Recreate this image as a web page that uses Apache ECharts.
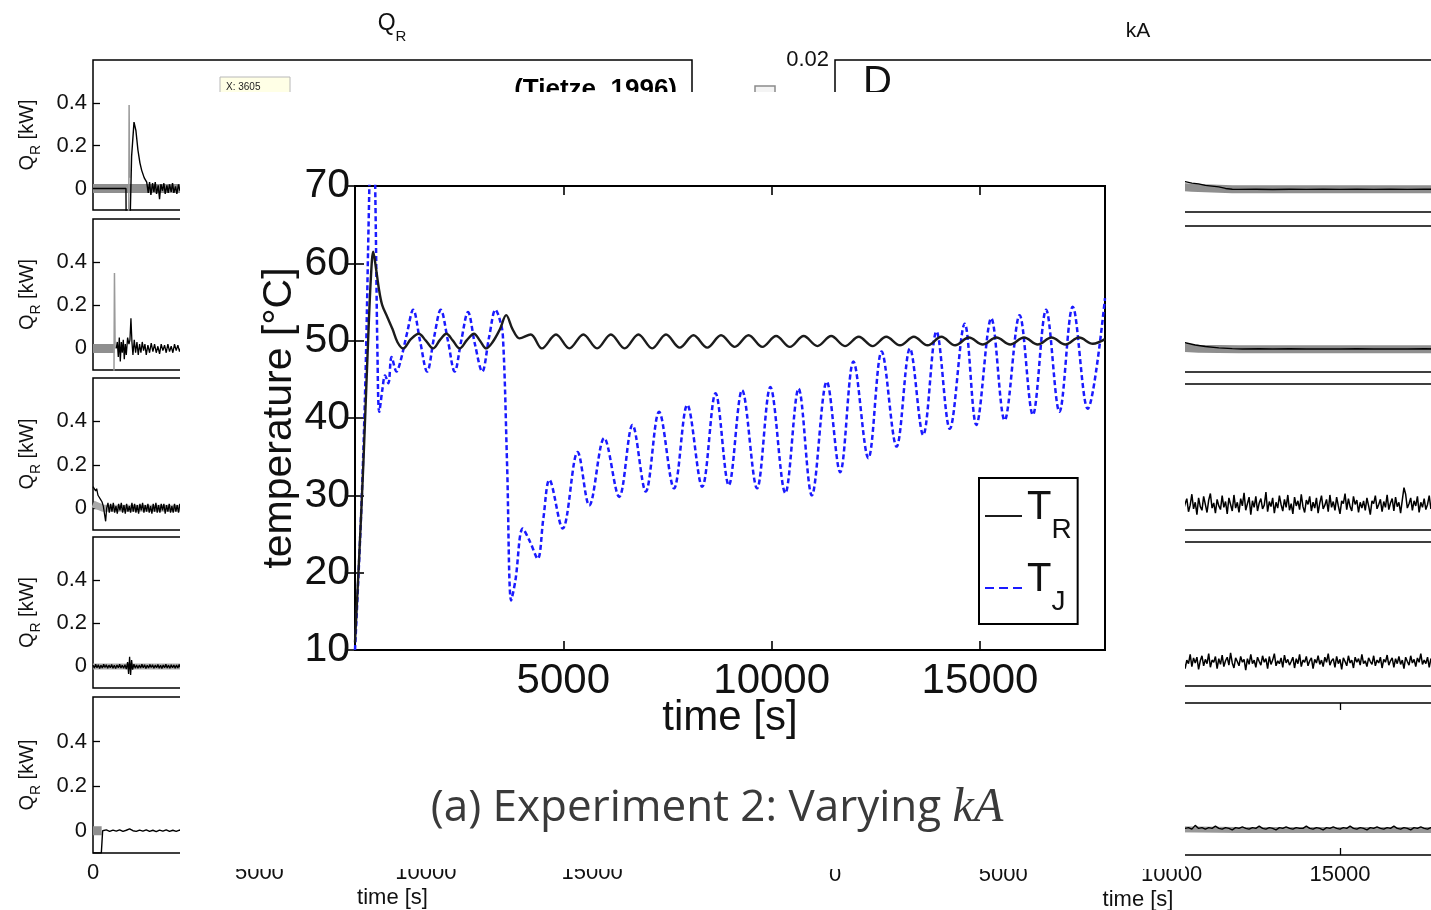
<!DOCTYPE html>
<html><head><meta charset="utf-8">
<script src="https://cdn.jsdelivr.net/npm/echarts@6/dist/echarts.min.js"></script>
<style>
html,body{margin:0;padding:0;background:#fff;overflow:hidden;width:1431px;height:910px;}
#bg{position:absolute;left:0;top:0;width:1470px;height:910px;}
#ov{position:absolute;left:180px;top:92px;width:1005px;height:777px;background:#fff;}
</style></head><body>
<div id="bg"></div><div id="ov"></div>
<script>
// ---------------- main chart data ----------------
const mainTimeTickInterval = 5000;
const mainTempTicks = [10, 20, 30, 40, 50, 60, 70];
const legendNames = ['T_R', 'T_J'];
const TR = [[0,11],[100,22],[200,34],[300,48],[380,58],[438,61.5],[500,59.5],[580,56.5],[653,54.6],[780,53],[900,51.5],[1020,49.8],[1155,49.0],[1340,50.2],[1531,50.9],[1700,50.0],[1874,49.0],[2040,50.1],[2194,50.9],[2350,50.0],[2512,49.0],[2690,50.1],[2856,50.9],[3000,50.0],[3150,49.0],[3300,49.8],[3480,51.5],[3629,53.3],[3780,51.5],[3947,50.3],[4218,50.8],[4483,49.0],[4824,50.8],[5144,49.0],[5480,50.8],[5810,49.0],[6141,50.8],[6471,49.0],[6802,50.8],[7132,49.0],[7463,50.8],[7793,49.1],[8124,50.7],[8454,49.1],[8785,50.7],[9115,49.2],[9446,50.7],[9776,49.2],[10107,50.6],[10437,49.2],[10768,50.6],[11098,49.3],[11429,50.6],[11759,49.3],[12090,50.5],[12420,49.3],[12751,50.5],[13081,49.4],[13412,50.5],[13742,49.4],[14073,50.5],[14403,49.4],[14734,50.4],[15064,49.5],[15395,50.4],[15725,49.5],[16056,50.4],[16386,49.5],[16717,50.4],[17047,49.5],[17378,50.4],[17708,49.6],[18000,50.2]];
const TJ = [[0,10],[150,28],[250,45],[330,66],[390,80],[440,82],[490,68],[540,48],[582,40.8],[660,43.8],[720,45.5],[800,44.5],[878,47.9],[997,46.0],[1090,47.3],[1250,51],[1396,54.0],[1560,50],[1731,46.0],[1900,50.5],[2057,54.0],[2230,50],[2392,46.0],[2550,50],[2711,53.7],[2880,49.5],[3053,46.0],[3220,50.5],[3373,54.0],[3460,53],[3548,50.7],[3650,34],[3748,16.4],[3850,19],[4027,25.7],[4200,24],[4385,21.8],[4520,27],[4665,32.0],[4984,25.7],[5343,35.6],[5622,28.7],[5981,37.4],[6340,29.8],[6659,39.1],[6978,30.5],[7297,40.8],[7656,30.9],[7974,41.7],[8333,31.1],[8653,43.2],[8971,31.3],[9290,43.6],[9649,30.9],[9968,44.0],[10327,30.3],[10646,43.8],[10964,30.0],[11323,44.7],[11643,33.0],[11962,47.3],[12320,34.8],[12639,48.6],[12998,36.3],[13318,49.0],[13636,37.8],[13955,51.2],[14275,38.6],[14633,52.2],[14912,39.1],[15270,52.9],[15591,39.7],[15950,53.3],[16268,40.4],[16586,54.0],[16906,40.8],[17225,54.4],[17584,41.2],[18000,55.5]];

// ---------------- background figure data ----------------
const bgTimeTicks = [0, 5000, 10000, 15000];
const bgMinorTimeTicks = [5000, 10000, 15000];
const qrTicks = [0, 0.2, 0.4];
const kaTicks = [0.02];
const qr1Band = [[0,0],[500,0],[990,0],[1500,0],[2000,0],[2700,0]];
const qr1Spike = [[1075,-0.12],[1085,0.39],[1100,0.05]];
const qr1Black = [[0,0],[990,0],[995,-0.12],[1120,-0.12],[1160,0.15],[1232,0.31],[1290,0.27],[1350,0.18],[1410,0.12],[1463,0.085],[1540,0.05],[1614,0.03],[1660,-0.02],[1700,0.03],[1740,-0.03],[1790,0.025],[1830,-0.015],[1870,0.03],[1910,-0.025],[1960,0.015],[2000,-0.05],[2040,0.02],[2090,-0.01],[2130,0.025],[2170,-0.025],[2220,0.015],[2260,-0.02],[2300,0.02],[2350,-0.015],[2390,0.025],[2430,-0.02],[2480,0.01],[2520,-0.025],[2570,0.02],[2610,-0.01],[2660,0.015],[2700,0]];
const qr2Band = [[0,0],[650,0]];
const qr2Spike = [[630,-0.12],[645,0.35],[665,0.0]];
const qr2Black = [[700,0.0],[730,0.03],[760,-0.04],[790,0.05],[820,-0.06],[850,0.03],[880,-0.02],[910,0.04],[940,-0.05],[970,0.02],[1000,-0.03],[1040,0.05],[1080,0.02],[1110,0.04],[1140,0.14],[1170,0.03],[1200,-0.03],[1240,0.04],[1280,-0.02],[1320,0.03],[1360,-0.03],[1400,0.02],[1440,-0.02],[1480,0.03],[1520,-0.01],[1560,0.02],[1600,-0.03],[1650,0.015],[1700,-0.02],[1750,0.025],[1800,-0.015],[1850,0.02],[1900,-0.02],[1950,0.01],[2000,-0.025],[2050,0.02],[2100,-0.01],[2150,0.015],[2200,-0.02],[2250,0.02],[2300,-0.015],[2350,0.01],[2400,-0.02],[2450,0.02],[2500,-0.01],[2550,0.015],[2600,-0.015],[2650,0.01],[2700,0]];
const qr3Band = [[0,0.02],[300,0],[2700,0]];
const qr3Black = [[0,0.10],[40,0.095],[80,0.08],[110,0.09],[150,0.06],[190,0.065],[230,0.04],[270,0.03],[310,0.01],[350,-0.03],[380,-0.06],[410,0.0],[450,0.025],[490,-0.02],[530,0.02],[570,-0.015],[610,0.025],[650,-0.02],[690,0.01],[730,-0.025],[770,0.02],[810,-0.01],[850,0.025],[890,-0.02],[930,0.015],[970,-0.025],[1010,0.02],[1050,-0.015],[1090,0.01],[1130,-0.02],[1170,0.025],[1210,-0.015],[1250,0.02],[1290,-0.02],[1330,0.015],[1370,-0.025],[1410,0.02],[1450,-0.01],[1490,0.025],[1530,-0.02],[1570,0.015],[1610,-0.015],[1650,0.02],[1690,-0.02],[1730,0.01],[1770,-0.025],[1810,0.02],[1850,-0.015],[1890,0.025],[1930,-0.02],[1970,0.015],[2010,-0.02],[2050,0.02],[2090,-0.01],[2130,0.02],[2170,-0.025],[2210,0.015],[2250,-0.015],[2290,0.02],[2330,-0.02],[2370,0.01],[2410,-0.02],[2450,0.02],[2490,-0.015],[2530,0.015],[2570,-0.02],[2610,0.02],[2650,-0.01],[2700,0.0]];
const qr4Band = [[0,0],[2700,0]];
const qr4Black = [[0,0.006],[40,-0.008],[80,0.01],[120,-0.006],[160,0.008],[200,-0.01],[240,0.005],[280,-0.007],[320,0.01],[360,-0.005],[400,0.008],[440,-0.009],[480,0.006],[520,-0.006],[560,0.009],[600,-0.008],[640,0.005],[680,-0.01],[720,0.007],[760,-0.006],[800,0.01],[840,-0.007],[880,0.006],[920,-0.009],[960,0.008],[1000,-0.012],[1040,0.02],[1070,-0.035],[1100,0.045],[1130,-0.04],[1160,0.03],[1190,-0.015],[1230,0.01],[1270,-0.008],[1310,0.007],[1350,-0.009],[1390,0.006],[1430,-0.007],[1470,0.01],[1510,-0.006],[1550,0.008],[1590,-0.01],[1630,0.005],[1670,-0.007],[1710,0.009],[1750,-0.005],[1790,0.008],[1830,-0.009],[1870,0.006],[1910,-0.006],[1950,0.009],[1990,-0.008],[2030,0.005],[2070,-0.01],[2110,0.007],[2150,-0.006],[2190,0.01],[2230,-0.007],[2270,0.006],[2310,-0.009],[2350,0.008],[2390,-0.006],[2430,0.007],[2470,-0.008],[2510,0.006],[2550,-0.007],[2590,0.009],[2630,-0.006],[2700,0.0]];
const qr5Band = [[0,0],[260,0]];
const qr5Black = [[0,-0.1],[250,-0.1],[270,-0.05],[290,0.0],[400,0.004],[500,-0.003],[600,0.003],[700,-0.002],[800,0.004],[900,-0.003],[1000,0.002],[1100,0.008],[1200,0.0],[1300,-0.003],[1400,0.003],[1500,-0.002],[1600,0.004],[1700,-0.003],[1800,0.002],[1900,-0.004],[2000,0.003],[2100,-0.002],[2200,0.004],[2300,-0.003],[2400,0.002],[2500,-0.003],[2600,0.003],[2700,0]];

const ka1Black = [[10000,0.0041],[10400,0.0040],[10600,0.0038],[10800,0.0037],[11000,0.0035],[11200,0.0034],[11400,0.0033],[11600,0.0031],[11800,0.0030],[12000,0.00298],[12500,0.00300],[13000,0.00297],[13500,0.00300],[14000,0.00298],[14500,0.00301],[15000,0.00298],[15500,0.00300],[16000,0.00298],[16500,0.00300],[17000,0.00298],[17500,0.00300],[18000,0.00299]];
const ka1Band = [[10000,0.0034],[10600,0.0032],[11200,0.0031],[11800,0.0030],[12500,0.0030],[18000,0.0030]];
const ka2Black = [[10000,0.0041],[10400,0.0040],[10700,0.0037],[11000,0.0035],[11400,0.0033],[11800,0.0032],[12100,0.00315],[12600,0.00318],[13000,0.00316],[13500,0.00318],[14000,0.00316],[14500,0.00317],[15000,0.00315],[15500,0.00318],[16000,0.00316],[16500,0.00317],[17000,0.00315],[17500,0.00318],[18000,0.00316]];
const ka2Band = [[10000,0.0034],[10800,0.0032],[12000,0.0031],[18000,0.0031]];
const kaFineTimes = [10000,10050,10100,10150,10200,10250,10300,10350,10400,10450,10500,10550,10600,10650,10700,10750,10800,10850,10900,10950,11000,11050,11100,11150,11200,11250,11300,11350,11400,11450,11500,11550,11600,11650,11700,11750,11800,11850,11900,11950,12000,12050,12100,12150,12200,12250,12300,12350,12400,12450,12500,12550,12600,12650,12700,12750,12800,12850,12900,12950,13000,13050,13100,13150,13200,13250,13300,13350,13400,13450,13500,13550,13600,13650,13700,13750,13800,13850,13900,13950,14000,14050,14100,14150,14200,14250,14300,14350,14400,14450,14500,14550,14600,14650,14700,14750,14800,14850,14900,14950,15000,15050,15100,15150,15200,15250,15300,15350,15400,15450,15500,15550,15600,15650,15700,15750,15800,15850,15900,15950,16000,16050,16100,16150,16200,16250,16300,16350,16400,16450,16500,16550,16600,16650,16700,16750,16800,16850,16900,16950,17000,17050,17100,17150,17200,17250,17300,17350,17400,17450,17500,17550,17600,17650,17700,17750,17800,17850,17900,17950,18000];
const ka3Values = [0.0040,0.0028,0.0045,0.0031,0.0022,0.0039,0.0047,0.0027,0.0036,0.0043,
0.0025,0.0034,0.0049,0.0029,0.0038,0.0021,0.0044,0.0032,0.0027,0.0046,
0.0035,0.0024,0.0041,0.0050,0.0030,0.0037,0.0023,0.0042,0.0033,0.0028,
0.0047,0.0031,0.0039,0.0022,0.0044,0.0035,0.0026,0.0048,0.0030,0.0038,
0.0024,0.0043,0.0033,0.0051,0.0027,0.0036,0.0045,0.0021,0.0040,0.0031,
0.0046,0.0026,0.0037,0.0043,0.0029,0.0034,0.0052,0.0025,0.0039,0.0032,
0.0044,0.0023,0.0038,0.0030,0.0047,0.0035,0.0026,0.0042,0.0031,0.0048,
0.0027,0.0036,0.0022,0.0045,0.0033,0.0040,0.0028,0.0049,0.0032,0.0024,
0.0041,0.0035,0.0046,0.0026,0.0038,0.0030,0.0044,0.0023,0.0037,0.0047,
0.0029,0.0034,0.0042,0.0025,0.0048,0.0031,0.0039,0.0027,0.0045,0.0033,
0.0022,0.0040,0.0036,0.0050,0.0028,0.0043,0.0032,0.0026,0.0046,0.0035,
0.0041,0.0024,0.0038,0.0030,0.0040,0.0027,0.0044,0.0033,0.0021,0.0040,
0.0036,0.0047,0.0029,0.0035,0.0042,0.0025,0.0039,0.0031,0.0048,0.0028,
0.0037,0.0043,0.0026,0.0045,0.0032,0.0038,0.0023,0.0041,0.0058,0.0049,
0.0030,0.0036,0.0044,0.0027,0.0040,0.0033,0.0046,0.0024,0.0038,0.0031,
0.0043,0.0028,0.0035,0.0047,0.0029,0.0041,0.0034,0.0025,0.0045,0.0032,
0.0039];
const ka4Values = [0.0041,0.0029,0.0037,0.0025,0.0035,0.0043,0.0030,0.0038,0.0024,0.0036,
0.0031,0.0044,0.0027,0.0039,0.0032,0.0040,0.0023,0.0035,0.0042,0.0028,
0.0037,0.0031,0.0045,0.0026,0.0036,0.0033,0.0041,0.0024,0.0038,0.0030,
0.0043,0.0027,0.0035,0.0040,0.0029,0.0046,0.0032,0.0025,0.0039,0.0034,
0.0028,0.0041,0.0033,0.0037,0.0022,0.0038,0.0030,0.0044,0.0031,0.0036,
0.0026,0.0040,0.0034,0.0029,0.0042,0.0033,0.0038,0.0024,0.0041,0.0030,
0.0036,0.0045,0.0028,0.0035,0.0031,0.0039,0.0026,0.0043,0.0032,0.0037,
0.0029,0.0034,0.0040,0.0025,0.0038,0.0031,0.0044,0.0027,0.0036,0.0033,
0.0041,0.0028,0.0035,0.0039,0.0024,0.0037,0.0032,0.0042,0.0030,0.0036,
0.0027,0.0040,0.0033,0.0045,0.0029,0.0035,0.0038,0.0026,0.0041,0.0031,
0.0037,0.0023,0.0039,0.0034,0.0028,0.0042,0.0032,0.0036,0.0025,0.0040,
0.0033,0.0038,0.0029,0.0044,0.0031,0.0035,0.0027,0.0039,0.0034,0.0030,
0.0042,0.0028,0.0036,0.0032,0.0040,0.0025,0.0037,0.0033,0.0043,0.0029,
0.0035,0.0039,0.0026,0.0038,0.0031,0.0041,0.0030,0.0036,0.0024,0.0040,
0.0034,0.0029,0.0042,0.0032,0.0037,0.0027,0.0039,0.0033,0.0045,0.0030,
0.0036,0.0031,0.0040,0.0026,0.0038,0.0033,0.0041,0.0029,0.0035,0.0032,
0.0037];
const kaCoarseTimes = [10000,10100,10200,10300,10400,10500,10600,10700,10800,10900,11000,11100,11200,11300,11400,11500,11600,11700,11800,11900,12000,12100,12200,12300,12400,12500,12600,12700,12800,12900,13000,13100,13200,13300,13400,13500,13600,13700,13800,13900,14000,14100,14200,14300,14400,14500,14600,14700,14800,14900,15000,15100,15200,15300,15400,15500,15600,15700,15800,15900,16000,16100,16200,16300,16400,16500,16600,16700,16800,16900,17000,17100,17200,17300,17400,17500,17600,17700,17800,17900,18000];
const ka5Values = [0.0038,0.0036,0.0035,0.0037,0.0035,0.0036,0.0034,0.0039,0.0035,0.0036,0.0034,0.0036,0.0035,0.0038,0.0035,0.0034,0.0036,0.0035,0.0033,0.0036,0.0035,0.0037,0.0035,0.0034,0.0036,0.0035,0.0038,0.0035,0.0034,0.0036,0.0035,0.0033,0.0036,0.0035,0.0037,0.0035,0.0034,0.0036,0.0035,0.0035,0.0038,0.0035,0.0034,0.0036,0.0035,0.0033,0.0036,0.0035,0.0037,0.0035,0.0034,0.0036,0.0035,0.0038,0.0035,0.0034,0.0036,0.0035,0.0033,0.0036,0.0035,0.0037,0.0035,0.0034,0.0036,0.0035,0.0038,0.0035,0.0034,0.0036,0.0035,0.0033,0.0036,0.0035,0.0037,0.0035,0.0034,0.0036,0.0035,0.0036,0.0035];
const ka5Band = [[10000,0.0034],[12000,0.0033],[18000,0.0033]];

// ---------------- layout ----------------
const SANS = "'Liberation Sans', Arial, Helvetica, sans-serif";
const leftTops = [60, 219, 378, 537, 697], leftHeights = [150, 151, 152, 151, 156];
const rightTops = [60, 226, 384, 542, 703], rightHeights = [152, 146, 146, 144, 152];
const plain = function (v) { return String(v); };

function zip(times, vals) { return times.map((t, i) => [t, vals[i]]); }

// ---------- background chart ----------
const bg = echarts.init(document.getElementById('bg'), null, {renderer: 'canvas'});
const grids = [], xAxes = [], yAxes = [], bgSeries = [];
for (let i = 0; i < 5; i++) {
  grids.push({left: 93, top: leftTops[i], width: 599, height: leftHeights[i], show: true, borderColor: '#000', borderWidth: 1.5, backgroundColor: 'transparent', containLabel: false, outerBoundsMode: 'none'});
}
for (let i = 0; i < 5; i++) {
  grids.push({left: 835, top: rightTops[i], width: 606, height: rightHeights[i], show: true, borderColor: '#000', borderWidth: 1.5, backgroundColor: 'transparent', containLabel: false, outerBoundsMode: 'none'});
}
for (let g = 0; g < 10; g++) {
  const bottom = (g === 4 || g === 9);
  xAxes.push({
    gridIndex: g, type: 'value', min: 0, max: 18000,
    axisLine: {show: false}, splitLine: {show: false},
    axisTick: {show: bottom, inside: true, length: 7, customValues: bgMinorTimeTicks, lineStyle: {color: '#000', width: 1.3}},
    axisLabel: {show: bottom, customValues: bgTimeTicks, formatter: plain, fontSize: 22, color: '#111', fontFamily: SANS, margin: 9},
    name: bottom ? 'time [s]' : '', nameLocation: 'middle', nameGap: 34, nameMoveOverlap: false,
    nameTextStyle: {fontSize: 22, color: '#111', fontFamily: SANS}
  });
  const left = g < 5;
  yAxes.push({
    gridIndex: g, type: 'value', min: left ? -0.1 : 0, max: left ? 0.6 : 0.02,
    axisLine: {show: false}, splitLine: {show: false},
    axisTick: {show: left, inside: true, length: 7, customValues: qrTicks, lineStyle: {color: '#000', width: 1.3}},
    axisLabel: {show: true, customValues: left ? qrTicks : kaTicks, fontSize: 22, color: '#111', fontFamily: SANS, margin: 6},
    name: left ? '{a|Q}{b|R}{a| [kW]}' : '', nameLocation: 'middle', nameRotate: 90, nameGap: 50,
    nameTextStyle: {color: '#111', rich: {
      a: {fontSize: 20, fontFamily: SANS, color: '#111', lineHeight: 20, verticalAlign: 'top'},
      b: {fontSize: 14, fontFamily: SANS, color: '#111', padding: [12, 0, 0, 0], verticalAlign: 'bottom'}
    }}
  });
}
// mirrored top ticks of the bottom kA panel
xAxes.push({gridIndex: 9, type: 'value', min: 0, max: 18000, position: 'top',
  axisLine: {show: false}, splitLine: {show: false}, axisLabel: {show: false},
  axisTick: {show: true, inside: true, length: 7, customValues: bgMinorTimeTicks, lineStyle: {color: '#000', width: 1.3}}});

function bgLine(idx, data, color, width, z) {
  bgSeries.push({type: 'line', xAxisIndex: idx, yAxisIndex: idx, data: data, showSymbol: false, symbol: 'none',
    lineStyle: {color: color, width: width}, animation: false, silent: true, z: z, clip: true});
}
const GRAY = '#8f8f8f';
bgLine(0, qr1Band, GRAY, 9, 1); bgLine(0, qr1Spike, '#9a9a9a', 1.5, 2); bgLine(0, qr1Black, '#000', 1.4, 3);
bgLine(1, qr2Band, GRAY, 9, 1); bgLine(1, qr2Spike, '#9a9a9a', 1.5, 2); bgLine(1, qr2Black, '#000', 1.3, 3);
bgLine(2, qr3Band, '#aaa', 7, 1); bgLine(2, qr3Black, '#000', 1.3, 3);
bgLine(3, qr4Band, '#aaa', 6, 1); bgLine(3, qr4Black, '#000', 1.3, 3);
bgLine(4, qr5Band, GRAY, 9, 1); bgLine(4, qr5Black, '#000', 1.4, 3);
bgLine(5, ka1Band, GRAY, 8, 1); bgLine(5, ka1Black, '#000', 1.4, 3);
bgLine(6, ka2Band, GRAY, 8, 1); bgLine(6, ka2Black, '#000', 1.4, 3);
bgLine(7, zip(kaFineTimes, ka3Values), '#000', 1.5, 3);
bgLine(8, zip(kaFineTimes, ka4Values), '#000', 1.5, 3);
bgLine(9, ka5Band, '#999', 6, 1); bgLine(9, zip(kaCoarseTimes, ka5Values), '#000', 1.4, 3);

bg.setOption({
  animation: false,
  grid: grids, xAxis: xAxes, yAxis: yAxes, series: bgSeries,
  graphic: [
    {type: 'text', x: 392, y: 12, style: {text: '{a|Q}{b|R}', align: 'center', textAlign: 'center', verticalAlign: 'top', textVerticalAlign: 'top',
      rich: {a: {fontSize: 23, fontFamily: SANS, fill: '#111', color: '#111', lineHeight: 23, verticalAlign: 'top'},
             b: {fontSize: 15, fontFamily: SANS, fill: '#111', color: '#111', padding: [17, 0, 0, 0], verticalAlign: 'bottom'}}}},
    {type: 'text', x: 1138, y: 31, style: {text: 'kA', font: '21px ' + SANS, fill: '#111', align: 'center', textAlign: 'center', verticalAlign: 'middle', textVerticalAlign: 'middle'}},
    {type: 'rect', shape: {x: 220, y: 77, width: 70, height: 22}, style: {fill: '#ffffe6', stroke: '#b8b8b8', lineWidth: 1}},
    {type: 'text', x: 226, y: 82, style: {text: 'X: 3605', font: '10px ' + SANS, fill: '#222', align: 'left', textAlign: 'left', verticalAlign: 'top', textVerticalAlign: 'top'}},
    {type: 'text', x: 677, y: 77, style: {text: '(Tietze, 1996)', font: 'bold 26px ' + SANS, fill: '#000', align: 'right', textAlign: 'right', verticalAlign: 'top', textVerticalAlign: 'top'}},
    {type: 'rect', shape: {x: 755, y: 86, width: 20, height: 12}, style: {fill: '#f4f4f4', stroke: '#8a8a8a', lineWidth: 1.5}},
    {type: 'text', x: 863, y: 63, style: {text: 'D', font: '40px ' + SANS, fill: '#111', align: 'left', textAlign: 'left', verticalAlign: 'top', textVerticalAlign: 'top'}}
  ]
});

// ---------- overlay (main) chart ----------
const ov = echarts.init(document.getElementById('ov'), null, {renderer: 'canvas'});
const tickStyle = {color: '#000', width: 1.6};
ov.setOption({
  animation: false,
  grid: {left: 175, top: 94, width: 750, height: 464, show: true, borderColor: '#000', borderWidth: 2, backgroundColor: 'transparent', containLabel: false, outerBoundsMode: 'none'},
  xAxis: [
    {type: 'value', min: 0, max: 18000, interval: mainTimeTickInterval, position: 'bottom',
     axisLine: {show: false}, splitLine: {show: false},
     axisTick: {inside: true, length: 9, lineStyle: tickStyle},
     axisLabel: {showMinLabel: false, showMaxLabel: false, formatter: plain, fontSize: 42, color: '#111', fontFamily: SANS, margin: 10},
     name: 'time [s]', nameLocation: 'middle', nameGap: 47, nameMoveOverlap: false,
     nameTextStyle: {fontSize: 42, color: '#111', fontFamily: SANS}},
    {type: 'value', min: 0, max: 18000, interval: mainTimeTickInterval, position: 'top',
     axisLine: {show: false}, splitLine: {show: false}, axisLabel: {show: false},
     axisTick: {inside: true, length: 9, lineStyle: tickStyle}}
  ],
  yAxis: [
    {type: 'value', min: mainTempTicks[0], max: mainTempTicks[mainTempTicks.length - 1], interval: 10, position: 'left',
     axisLine: {show: false}, splitLine: {show: false},
     axisTick: {inside: true, length: 9, lineStyle: tickStyle},
     axisLabel: {fontSize: 41, color: '#111', fontFamily: SANS, margin: 5},
     name: 'temperature [°C]', nameLocation: 'middle', nameRotate: 90, nameGap: 55, nameMoveOverlap: false,
     nameTextStyle: {fontSize: 41, color: '#111', fontFamily: SANS}},
    {type: 'value', min: mainTempTicks[0], max: mainTempTicks[mainTempTicks.length - 1], interval: 10, position: 'right',
     axisLine: {show: false}, splitLine: {show: false}, axisLabel: {show: false},
     axisTick: {inside: true, length: 9, lineStyle: tickStyle}}
  ],
  legend: {
    left: 799, top: 386, orient: 'vertical', selectedMode: false,
    data: [
      {name: legendNames[0], icon: 'path://M0,0H37V2H0Z'},
      {name: legendNames[1], icon: 'path://M0,0H9V2H0Z M14,0H23V2H14Z M28,0H37V2H28Z'}
    ],
    itemWidth: 37, itemHeight: 2, itemGap: 16, padding: [10, 6, 8, 6],
    borderColor: '#000', borderWidth: 2, backgroundColor: '#fff',
    formatter: function (name) { return name === 'T_R' ? '{t|T}{s|R}' : '{t|T}{s|J}'; },
    textStyle: {color: '#111', fontFamily: SANS, rich: {
      t: {fontSize: 40, fontFamily: SANS, color: '#111', lineHeight: 40, verticalAlign: 'top'},
      s: {fontSize: 28, fontFamily: SANS, color: '#111', padding: [28, 0, 0, 0], verticalAlign: 'bottom'}
    }}
  },
  series: [
    {name: legendNames[0], type: 'line', data: TR, smooth: 0.35, showSymbol: false, symbol: 'none', z: 3,
     lineStyle: {color: '#1c1c1c', width: 2.4}, itemStyle: {color: '#1c1c1c'}},
    {name: legendNames[1], type: 'line', data: TJ, smooth: 0.35, showSymbol: false, symbol: 'none', z: 2,
     lineStyle: {color: '#1a1aff', width: 2.5, type: [5, 3]}, itemStyle: {color: '#1a1aff'}}
  ],
  graphic: [
    {type: 'text', x: 537, y: 716, style: {text: '{n|(a) Experiment 2: Varying }{m|kA}', align: 'center', textAlign: 'center', verticalAlign: 'middle', textVerticalAlign: 'middle',
      rich: {n: {fontSize: 44, fontFamily: "'Open Sans', 'Noto Sans', sans-serif", fill: '#3a3a3a', color: '#3a3a3a'},
             m: {fontSize: 48, fontFamily: "'Liberation Serif', 'DejaVu Serif', serif", fontStyle: 'italic', fill: '#3a3a3a', color: '#3a3a3a'}}}}
  ]
});
</script></body></html>
